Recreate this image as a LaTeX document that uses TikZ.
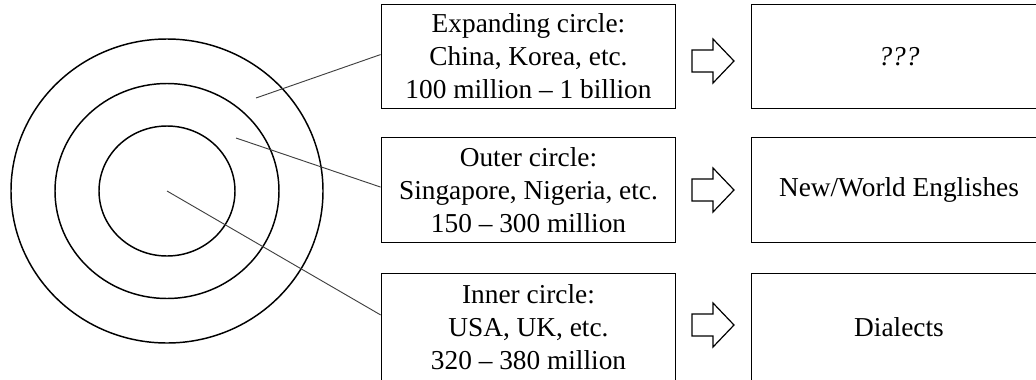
\documentclass[tikz,border=0pt]{standalone}
\usepackage{fontspec}
\setmainfont{Liberation Serif}
\usetikzlibrary{calc}
\begin{document}
\begin{tikzpicture}[x=0.75pt,y=-0.75pt,
  ring/.style={draw=black,line width=1.1pt},
  leader/.style={draw=black!75,line width=0.7pt},
  infobox/.style={draw=black,line width=0.9pt,minimum width=221pt,minimum height=78.5pt,
    inner sep=0pt,align=center,font=\fontsize{20.5pt}{24.75pt}\selectfont},
  lowbox/.style={infobox,minimum height=81pt},
  blockarrow/.style={draw=black,line width=0.9pt,line join=miter,fill=white}]
\path[use as bounding box,clip] (0,0) rectangle (1036,379);

% concentric circles
\coordinate (ctr) at (167,191);
\draw[ring] (ctr) ellipse [x radius=156, y radius=152];
\draw[ring] (ctr) ellipse [x radius=112, y radius=107.5];
\draw[ring] (ctr) ellipse [x radius=68, y radius=65];

% category boxes
\node[infobox] (b1) at (528.5,56.5) {Expanding circle:\\China, Korea, etc.\\100 million -- 1 billion};
\node[infobox] (b2) at (528.5,190) {Outer circle:\\Singapore, Nigeria, etc.\\150 -- 300 million};
\node[lowbox] (b3) at (528.5,327.5) {Inner circle:\\USA, UK, etc.\\320 -- 380 million};

% result boxes
\node[infobox] (r1) at (899,56.5) {\itshape ???};
\node[infobox] (r2) at (899,190) {New/World Englishes};
\node[lowbox] (r3) at (899,327.5) {Dialects};

% leader lines from the rings to the boxes
\coordinate (p1) at (256,98);
\coordinate (p2) at (236,138);
\draw[leader] (p1) -- ($(b1.north west)+(0,51)$);
\draw[leader] (p2) -- ($(b2.north west)+(0,50)$);
\draw[leader] (ctr) -- ($(b3.north west)+(0,42)$);

% block arrows between the columns
\foreach \n/\y in {a1/61, a2/190, a3/325}{
  \coordinate (\n) at (713,\y);
  \draw[blockarrow] ($(\n)+(-21,-11)$) -- ($(\n)+(0,-11)$) -- ($(\n)+(0,-22)$)
    -- ($(\n)+(21,0)$) -- ($(\n)+(0,22)$) -- ($(\n)+(0,11)$) -- ($(\n)+(-21,11)$) -- cycle;
}
\end{tikzpicture}
\end{document}
